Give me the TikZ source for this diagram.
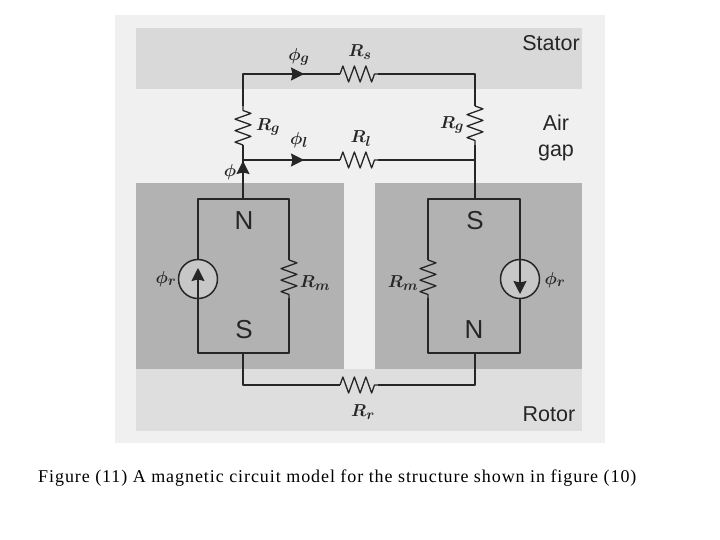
\documentclass[tikz,border=0pt]{standalone}
\usepackage{fontspec}
\setmainfont{Liberation Sans}
\newfontfamily\capfont[LetterSpace=5.2]{Liberation Serif}
\usetikzlibrary{arrows.meta,decorations.pathmorphing}
\definecolor{panelgray}{gray}{0.94}
\definecolor{bandgray}{gray}{0.85}
\definecolor{ironbandgray}{gray}{0.87}
\definecolor{magnetgray}{gray}{0.70}
\tikzset{
	wire/.style={draw=black!85,line width=1.3pt,line join=round},
	res/.style={wire,decorate,decoration={zigzag,segment length=11.5pt,amplitude=8pt}},
	flowtip/.style={wire,-{Stealth[length=13pt,width=13pt,inset=1.5pt]}},
	src/.style={circle,draw=black!85,line width=1.5pt,fill=black!22,minimum size=39pt,inner sep=0pt},
	sym/.style={font=\fontsize{19}{19}\selectfont\boldmath,inner sep=0pt,text=black!85},
	pole/.style={font=\fontsize{26}{26}\selectfont,inner sep=0pt,text=black!85},
	region/.style={font=\fontsize{21.5}{26}\selectfont,inner sep=0pt,align=center,text=black!85}
}
\begin{document}
\begin{tikzpicture}[x=1pt,y=-1pt,>=stealth,line join=round]
		\def\xl{243} \def\xr{475}
		\def\xa{198} \def\xb{289} \def\xc{428} \def\xd{520}
		\def\yt{74} \def\ym{160} \def\ybt{199} \def\ybb{353} \def\yb{385}
		\useasboundingbox (0,0) rectangle (720,540);
		\fill[white] (0,0) rectangle (720,540);
		% backdrop
		\fill[panelgray] (115,15) rectangle (605,443);
		\fill[bandgray] (136,28) rectangle (582,89);
		\fill[ironbandgray] (136,369) rectangle (582,431);
		\fill[magnetgray] (136,183) rectangle (344,369);
		\fill[magnetgray] (375,183) rectangle (582,369);
		% corners and junctions
		\coordinate (tl) at (\xl,\yt);
		\coordinate (tr) at (\xr,\yt);
		\coordinate (ml) at (\xl,\ym);
		\coordinate (mr) at (\xr,\ym);
		\coordinate (nt) at (\xl,\ybt);
		\coordinate (st) at (\xr,\ybt);
		\coordinate (sb) at (\xl,\ybb);
		\coordinate (nb) at (\xr,\ybb);
		\coordinate (bl) at (\xl,\yb);
		\coordinate (br) at (\xr,\yb);
		% resistor ends
		\coordinate (rsa) at (340,\yt); \coordinate (rsb) at (378,\yt);
		\coordinate (rla) at (340,\ym); \coordinate (rlb) at (378,\ym);
		\coordinate (rra) at (340,\yb); \coordinate (rrb) at (378,\yb);
		\coordinate (gla) at (\xl,106); \coordinate (glb) at (\xl,145);
		\coordinate (gra) at (\xr,106); \coordinate (grb) at (\xr,145);
		\coordinate (mla) at (\xb,260); \coordinate (mlb) at (\xb,298);
		\coordinate (mra) at (\xc,260); \coordinate (mrb) at (\xc,298);
		% stator, leakage and rotor branches
		\draw[wire] (glb)--(nt);
		\draw[res] (glb)--(gla);
		\draw[wire] (gla)--(tl)--(rsa);
		\draw[res] (rsa)--(rsb);
		\draw[wire] (rsb)--(tr)--(gra);
		\draw[res] (gra)--(grb);
		\draw[wire] (grb)--(st);
		\draw[wire] (ml)--(rla);
		\draw[res] (rla)--(rlb);
		\draw[wire] (rlb)--(mr);
		\draw[wire] (sb)--(bl)--(rra);
		\draw[res] (rra)--(rrb);
		\draw[wire] (rrb)--(br)--(nb);
		% left magnet
		\node[src] (srcl) at (\xa,279) {};
		\draw[wire] (srcl)--(\xa,\ybt)--(\xb,\ybt)--(mla);
		\draw[res] (mla)--(mlb);
		\draw[wire] (mlb)--(\xb,\ybb)--(\xa,\ybb)--(srcl);
		\draw[flowtip] (srcl.south)--(\xa,268);
		% right magnet
		\node[src] (srcr) at (\xd,279) {};
		\draw[wire] (srcr)--(\xd,\ybt)--(\xc,\ybt)--(mra);
		\draw[res] (mra)--(mrb);
		\draw[wire] (mrb)--(\xc,\ybb)--(\xd,\ybb)--(srcr);
		\draw[flowtip] (srcr.north)--(\xd,294);
		% flux arrows
		\coordinate (fg) at (304,\yt);
		\coordinate (fl) at (304,\ym);
		\coordinate (fm) at (\xl,161);
		\draw[flowtip] (tl)--(fg);
		\draw[flowtip] (ml)--(fl);
		\draw[flowtip] (nt)--(fm);
		% labels
		\node[sym] (lfg) at (299,57) {$\phi_g$};
		\node[sym] (lrs) at (360,52) {$R_s$};
		\node[sym] (lrgl) at (268,127) {$R_g$};
		\node[sym] (lrgr) at (452,125) {$R_g$};
		\node[sym] (lfl) at (299,140) {$\phi_l$};
		\node[sym] (lrl) at (361,139) {$R_l$};
		\node[sym] (lf) at (230,172) {$\phi$};
		\node[sym] (lfrl) at (166,279) {$\phi_r$};
		\node[sym] (lfrr) at (555,280) {$\phi_r$};
		\node[sym] (lrml) at (315,283) {$R_m$};
		\node[sym] (lrmr) at (403,283) {$R_m$};
		\node[sym] (lrr) at (363,412) {$R_r$};
		\node[pole] (pnl) at (244,221) {N};
		\node[pole] (psr) at (475,221) {S};
		\node[pole] (psl) at (244,330) {S};
		\node[pole] (pnr) at (474,330) {N};
		\node[region] (lst) at (551,43) {Stator};
		\node[region] (lag) at (556,138) {Air\\gap};
		\node[region] (lro) at (549,414) {Rotor};
		\node[font=\capfont\fontsize{18}{18}\selectfont,inner sep=0pt,anchor=west] (cap) at (38,478) {Figure (11) A magnetic circuit model for the structure shown in figure (10)};
\end{tikzpicture}
\end{document}
